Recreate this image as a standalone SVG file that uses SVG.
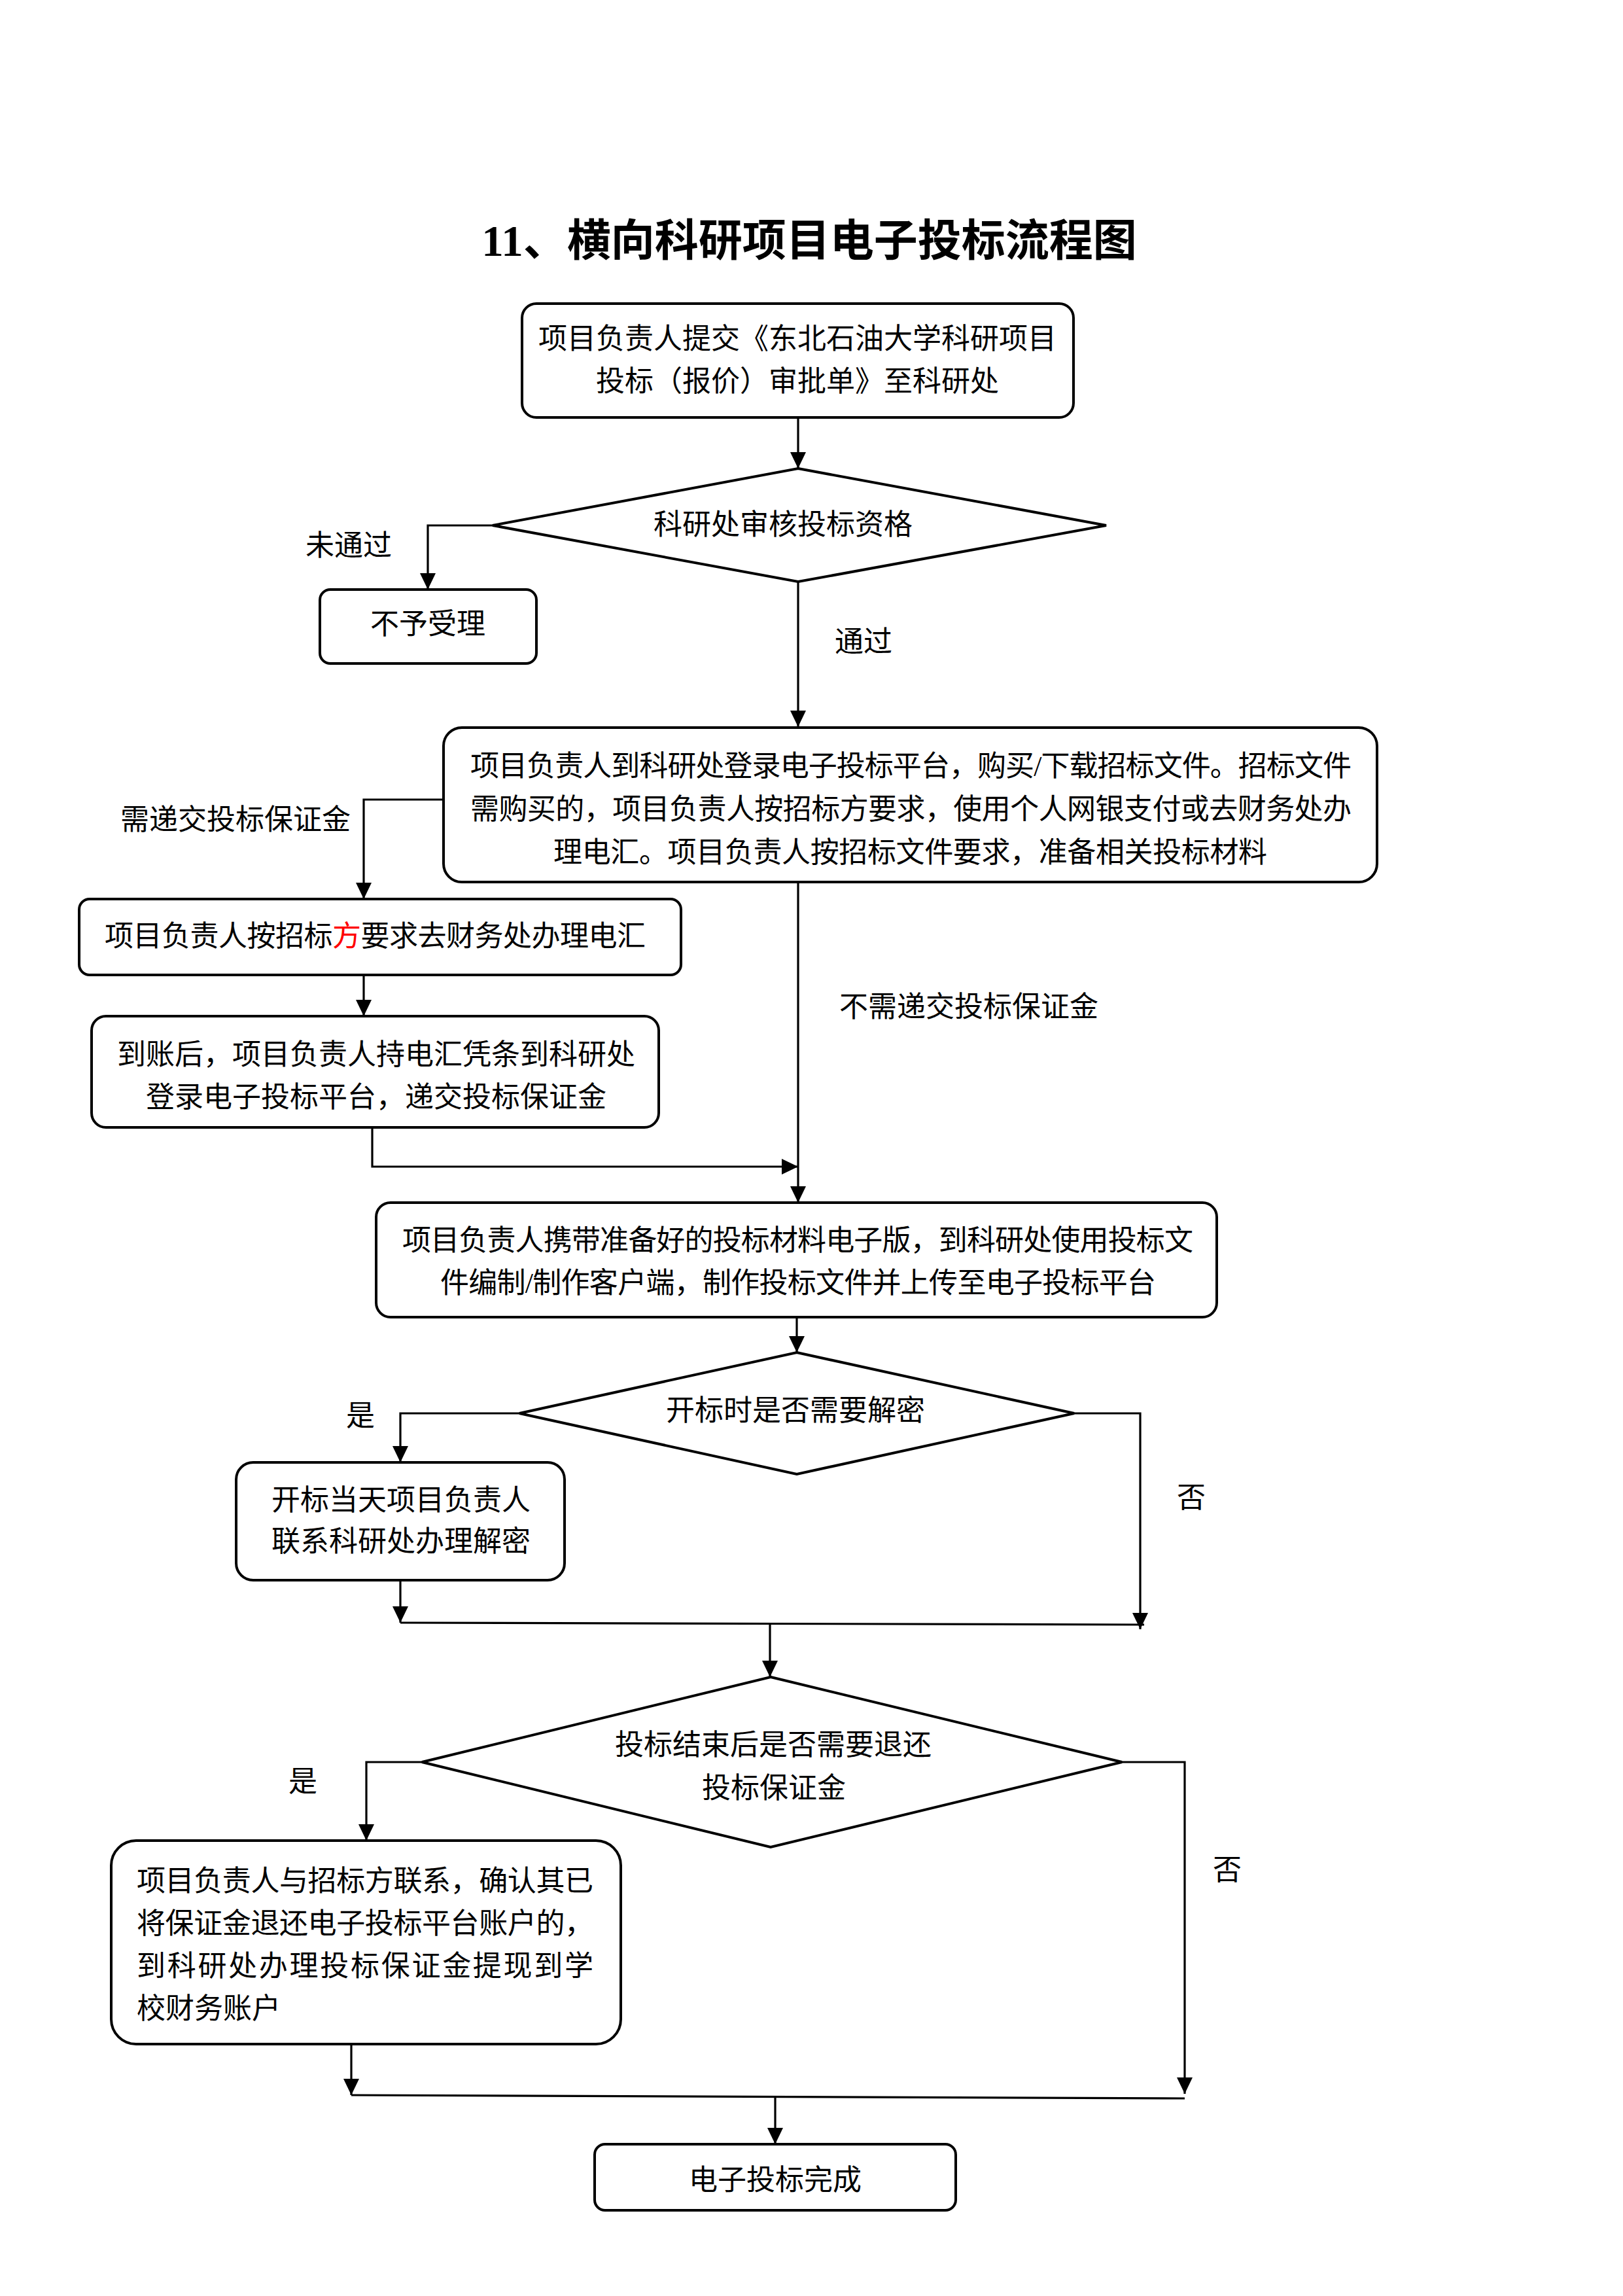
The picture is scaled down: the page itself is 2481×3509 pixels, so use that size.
<svg xmlns="http://www.w3.org/2000/svg" width="2481" height="3509" viewBox="0 0 2481 3509">
<defs>
<style>
.bg{fill:#ffffff}
.node{fill:#ffffff;stroke:#000000;stroke-width:4}
.t{font-family:"Liberation Serif","Noto Sans CJK SC",serif;font-size:44px;fill:#000000}
.c{text-anchor:middle}
.title{font-family:"Liberation Serif","Noto Sans CJK SC",serif;font-size:67px;font-weight:bold;fill:#000000;text-anchor:middle}
.red{fill:#ff0000}
.conn{fill:none;stroke:#000000;stroke-width:3.2}
.arr{marker-end:url(#ah)}
</style>
<marker id="ah" markerUnits="userSpaceOnUse" markerWidth="25" markerHeight="24" refX="25" refY="12" orient="auto">
<path d="M0,0 L25,12 L0,24 Z" fill="#000000"/>
</marker>
</defs>
<rect class="bg" x="0" y="0" width="2481" height="3509"/>
<text class="title" x="1237" y="391">11、横向科研项目电子投标流程图</text>

<g id="connectors">
<path class="conn arr" d="M1220,638 V716"/>
<path class="conn arr" d="M754,803 H654 V901"/>
<path class="conn arr" d="M1220,889 V1111"/>
<path class="conn arr" d="M678,1222 H556 V1374"/>
<path class="conn arr" d="M556,1490 V1553"/>
<path class="conn arr" d="M569,1723 V1783 H1220"/>
<path class="conn arr" d="M1220,1348 V1838"/>
<path class="conn arr" d="M1218,2013 V2067"/>
<path class="conn arr" d="M794,2160 H612 V2235"/>
<path class="conn arr" d="M612,2415 V2480"/>
<path class="conn arr" d="M1642,2160 H1743 V2490"/>
<path class="conn" d="M612,2480 L1749,2483"/>
<path class="conn arr" d="M1177,2481 V2563"/>
<path class="conn arr" d="M645,2693 H560 V2813"/>
<path class="conn arr" d="M1715,2693 H1811 V3200"/>
<path class="conn arr" d="M537,3124 V3202"/>
<path class="conn" d="M537,3202 L1811,3207"/>
<path class="conn arr" d="M1185,3204 V3277"/>
</g>

<g id="labels">
<text class="t" x="467" y="849">未通过</text>
<text class="t" x="1276" y="996">通过</text>
<text class="t" x="184" y="1268">需递交投标保证金</text>
<text class="t" x="1283" y="1554">不需递交投标保证金</text>
<text class="t" x="529" y="2179">是</text>
<text class="t" x="1799" y="2304">否</text>
<text class="t" x="441" y="2738">是</text>
<text class="t" x="1854" y="2873">否</text>
</g>

<g id="n1">
<rect class="node" x="798" y="464" width="843" height="174" rx="22"/>
<text class="t c" x="1219" y="533">项目负责人提交《东北石油大学科研项目</text>
<text class="t c" x="1219" y="598">投标（报价）审批单》至科研处</text>
</g>

<g id="d1">
<polygon class="node" points="1220,716 1691,803 1220,889 753,803"/>
<text class="t c" x="1197" y="817">科研处审核投标资格</text>
</g>

<g id="n_reject">
<rect class="node" x="489" y="901" width="331" height="113" rx="16"/>
<text class="t c" x="654" y="969">不予受理</text>
</g>

<g id="n3">
<rect class="node" x="678" y="1112" width="1427" height="236" rx="28"/>
<text class="t" x="719" y="1186" textLength="1347" lengthAdjust="spacing">项目负责人到科研处登录电子投标平台，购买/下载招标文件。招标文件</text>
<text class="t" x="719" y="1252" textLength="1347" lengthAdjust="spacing">需购买的，项目负责人按招标方要求，使用个人网银支付或去财务处办</text>
<text class="t" x="846" y="1318" textLength="1091" lengthAdjust="spacing">理电汇。项目负责人按招标文件要求，准备相关投标材料</text>
</g>

<g id="n4">
<rect class="node" x="121" y="1374" width="920" height="116" rx="16"/>
<text class="t" x="160" y="1446" textLength="827" lengthAdjust="spacing">项目负责人按招标<tspan class="red">方</tspan>要求去财务处办理电汇</text>
</g>

<g id="n5">
<rect class="node" x="140" y="1553" width="867" height="170" rx="22"/>
<text class="t c" x="575" y="1627">到账后，项目负责人持电汇凭条到科研处</text>
<text class="t c" x="575" y="1692">登录电子投标平台，递交投标保证金</text>
</g>

<g id="n6">
<rect class="node" x="575" y="1838" width="1285" height="175" rx="22"/>
<text class="t" x="615" y="1911" textLength="1209" lengthAdjust="spacing">项目负责人携带准备好的投标材料电子版，到科研处使用投标文</text>
<text class="t" x="673" y="1976" textLength="1094" lengthAdjust="spacing">件编制/制作客户端，制作投标文件并上传至电子投标平台</text>
</g>

<g id="d2">
<polygon class="node" points="1218,2067 1642,2160 1218,2253 794,2160"/>
<text class="t c" x="1216" y="2171">开标时是否需要解密</text>
</g>

<g id="n7">
<rect class="node" x="361" y="2235" width="502" height="180" rx="26"/>
<text class="t c" x="613" y="2308">开标当天项目负责人</text>
<text class="t c" x="613" y="2371">联系科研处办理解密</text>
</g>

<g id="d3">
<polygon class="node" points="1178,2563 1715,2693 1178,2823 645,2693"/>
<text class="t c" x="1182" y="2682">投标结束后是否需要退还</text>
<text class="t c" x="1183" y="2748">投标保证金</text>
</g>

<g id="n8">
<rect class="node" x="170" y="2813" width="779" height="311" rx="38"/>
<text class="t" x="209" y="2890" textLength="698" lengthAdjust="spacing">项目负责人与招标方联系，确认其已</text>
<text class="t" x="209" y="2955" textLength="698" lengthAdjust="spacing">将保证金退还电子投标平台账户的，</text>
<text class="t" x="209" y="3020" textLength="698" lengthAdjust="spacing">到科研处办理投标保证金提现到学</text>
<text class="t" x="209" y="3085">校财务账户</text>
</g>

<g id="n_end">
<rect class="node" x="909" y="3277" width="552" height="101" rx="16"/>
<text class="t c" x="1185" y="3347">电子投标完成</text>
</g>
</svg>
